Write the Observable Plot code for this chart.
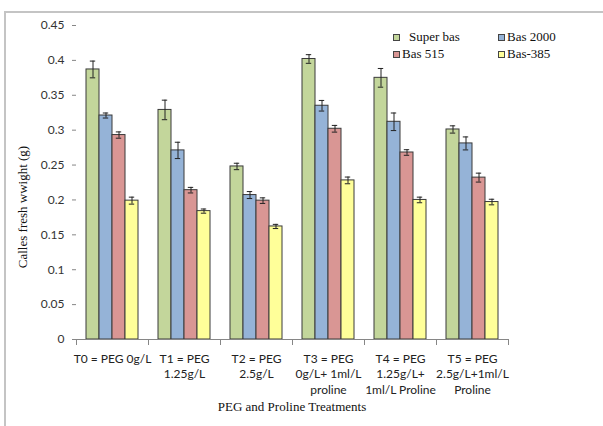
<!DOCTYPE html>
<html>
<head>
<meta charset="utf-8">
<script src="https://cdn.jsdelivr.net/npm/d3@7"></script>
<script src="https://cdn.jsdelivr.net/npm/@observablehq/plot@0.6"></script>
<style>
  html, body { margin: 0; padding: 0; background: #fff; }
  #wrap { position: relative; width: 603px; height: 426px; overflow: hidden; }
  #border { position: absolute; left: 4px; top: 11px; width: 800px; height: 600px;
            border-left: 2px solid #c4c4c4; border-top: 2px solid #c4c4c4; }
  .serif { font-family: "Liberation Serif", "Times New Roman", serif; font-size: 13px; color: #111; position: absolute; white-space: nowrap; }
  .sw { position: absolute; width: 5px; height: 5px; border: 1px solid #444; }
  #ytitle { left: 23px; top: 207px; transform: translate(-50%, -50%) rotate(-90deg); }
  #xtitle { left: 292px; top: 407px; transform: translate(-50%, -50%); }
  #chart { position: absolute; left: 0; top: 0; }
</style>
</head>
<body>
<div id="wrap">
  <div id="border"></div>
  <div id="chart"></div>
  <div id="legend"></div>
  <div class="serif" id="ytitle">Calles fresh wwight (g)</div>
  <div class="serif" id="xtitle">PEG and Proline Treatments</div>
</div>
<script>
const groups = [
  "T0 = PEG 0g/L",
  "T1 = PEG\n1.25g/L",
  "T2 = PEG\n2.5g/L",
  "T3 = PEG\n0g/L+ 1ml/L\nproline",
  "T4 = PEG\n1.25g/L+\n1ml/L Proline",
  "T5 = PEG\n2.5g/L+1ml/L\nProline"
];
const series = ["Super bas", "Bas 2000", "Bas 515", "Bas-385"];
const colors = ["#c3d69b", "#95b3d7", "#d99694", "#ffff99"];

const superBas    = [0.387, 0.329, 0.248, 0.402, 0.375, 0.301];
const superBasErr = [0.012, 0.014, 0.0046, 0.0062, 0.0134, 0.0052];
const bas2000     = [0.321, 0.271, 0.207, 0.335, 0.312, 0.281];
const bas2000Err  = [0.0036, 0.0117, 0.005, 0.0076, 0.0126, 0.0093];
const bas515      = [0.293, 0.214, 0.199, 0.302, 0.268, 0.232];
const bas515Err   = [0.0045, 0.004, 0.004, 0.0048, 0.004, 0.0064];
const bas385      = [0.199, 0.184, 0.162, 0.228, 0.200, 0.197];
const bas385Err   = [0.005, 0.003, 0.003, 0.0048, 0.004, 0.004];

const yTicks = [0, 0.05, 0.1, 0.15, 0.2, 0.25, 0.3, 0.35, 0.4, 0.45];

const values = [superBas, bas2000, bas515, bas385];
const errors = [superBasErr, bas2000Err, bas515Err, bas385Err];
const rows = [];
groups.forEach((g, gi) => series.forEach((s, si) => {
  rows.push({group: g, series: s, value: values[si][gi], err: errors[si][gi]});
}));

const axisColor = "#868686";
const sans = "Lato, 'Open Sans', sans-serif";

const chart = Plot.plot({
  width: 603, height: 426,
  marginLeft: 74, marginRight: 94, marginTop: 25, marginBottom: 87,
  style: {background: "transparent", overflow: "visible"},
  fx: {domain: groups, padding: 0, label: null},
  x: {domain: series, paddingInner: 0, paddingOuter: 0.74, axis: null},
  y: {domain: [0, 0.45], axis: null},
  color: {domain: series, range: colors},
  marks: [
    Plot.barY(rows, {fx: "group", x: "series", y: "value", fill: "series", stroke: "#3a3a3a", strokeWidth: 1}),
    Plot.ruleX(rows, {fx: "group", x: "series", y1: d => d.value - d.err, y2: d => d.value + d.err, stroke: "#222", strokeWidth: 1}),
    Plot.tickY(rows, {fx: "group", x: "series", y: d => d.value - d.err, stroke: "#222", insetLeft: 3.8, insetRight: 3.8}),
    Plot.tickY(rows, {fx: "group", x: "series", y: d => d.value + d.err, stroke: "#222", insetLeft: 3.8, insetRight: 3.8}),
    Plot.ruleY([0], {stroke: axisColor}),
    Plot.frame({anchor: "left", stroke: axisColor, insetTop: 314, insetBottom: -5}),
    Plot.frame({anchor: "right", stroke: axisColor, insetTop: 314, insetBottom: -5}),
    Plot.axisY({ticks: yTicks, tickFormat: d => String(d), tickSize: 4, tickPadding: 8, line: true,
                stroke: axisColor, color: "#333", fontSize: 12, fontFamily: sans, label: null}),
    Plot.axisFx({anchor: "bottom", tickSize: 0, tickPadding: 12, label: null, lineHeight: 1.3,
                 color: "#222", fontSize: 12, fontFamily: sans})
  ]
});
document.getElementById("chart").appendChild(chart);

// legend
const legendPos = [
  {sx: 393, tx: 409, y: 37},
  {sx: 498, tx: 507, y: 37},
  {sx: 393, tx: 402, y: 54},
  {sx: 498, tx: 507, y: 54}
];
const legend = document.getElementById("legend");
series.forEach((s, i) => {
  const p = legendPos[i];
  const sw = document.createElement("div");
  sw.className = "sw";
  sw.style.left = p.sx + "px";
  sw.style.top = (p.y - 3.5) + "px";
  sw.style.background = colors[i];
  legend.appendChild(sw);
  const t = document.createElement("div");
  t.className = "serif";
  t.textContent = s;
  t.style.left = p.tx + "px";
  t.style.top = (p.y - 8) + "px";
  legend.appendChild(t);
});
</script>
</body>
</html>
